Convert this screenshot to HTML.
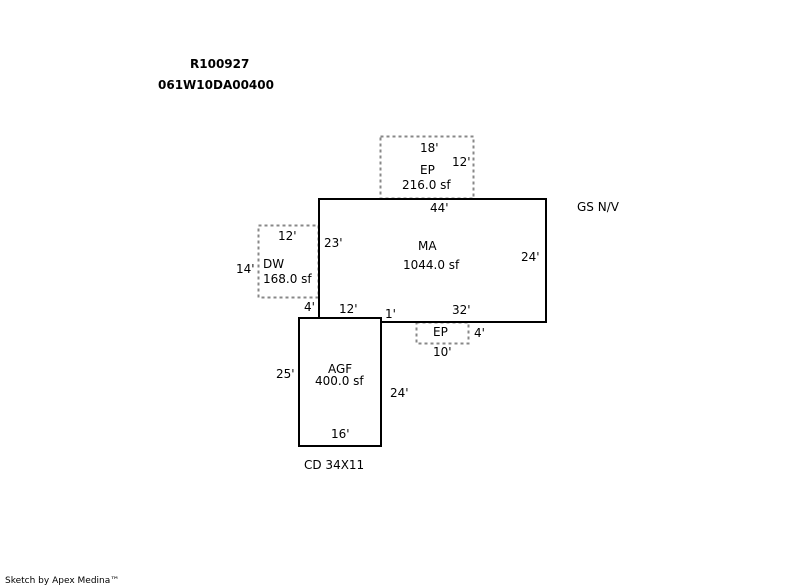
<!DOCTYPE html>
<html><head><style>body{margin:0;background:#fff}svg{display:block}</style></head><body>
<svg width="800" height="587" xmlns="http://www.w3.org/2000/svg" font-family="DejaVu Sans, Verdana, sans-serif" font-size="12" fill="#000">
<rect width="800" height="587" fill="#fff"/>
<g fill="none" stroke="#888" stroke-width="2" stroke-dasharray="3,3">
<rect x="380.5" y="136.5" width="93" height="62"/>
<rect x="258.5" y="225.5" width="60" height="72"/>
<rect x="416.5" y="322.5" width="52" height="21"/>
</g>
<g fill="none" stroke="#000" stroke-width="2">
<polygon points="319,199 546,199 546,322 381,322 381,318 319,318"/>
<rect x="299" y="318" width="82" height="128"/>
</g>
<g font-weight="bold" font-size="12">
<text x="190" y="68">R100927</text>
<text x="158" y="89">061W10DA00400</text>
</g>
<g font-size="12">
<text x="420" y="152">18'</text>
<text x="452" y="166">12'</text>
<text x="420" y="174">EP</text>
<text x="402" y="189">216.0 sf</text>
<text x="430" y="212">44'</text>
<text x="577" y="211">GS N/V</text>
<text x="278" y="240">12'</text>
<text x="324" y="247">23'</text>
<text x="418" y="250">MA</text>
<text x="403" y="269">1044.0 sf</text>
<text x="521" y="261">24'</text>
<text x="263" y="268">DW</text>
<text x="236" y="273">14'</text>
<text x="263" y="283">168.0 sf</text>
<text x="304" y="311">4'</text>
<text x="339" y="313">12'</text>
<text x="385" y="318">1'</text>
<text x="452" y="314">32'</text>
<text x="433" y="336">EP</text>
<text x="474" y="337">4'</text>
<text x="433" y="356">10'</text>
<text x="328" y="373">AGF</text>
<text x="276" y="378">25'</text>
<text x="315" y="385">400.0 sf</text>
<text x="390" y="397">24'</text>
<text x="331" y="438">16'</text>
<text x="304" y="469">CD 34X11</text>
</g>
<text x="5" y="583" font-size="9">Sketch by Apex Medina™</text>
</svg>
</body></html>
